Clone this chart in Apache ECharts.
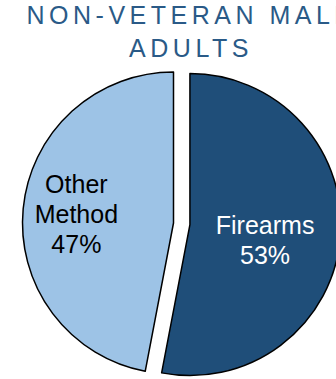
<!DOCTYPE html>
<html>
<head>
<meta charset="utf-8">
<script src="https://cdn.jsdelivr.net/npm/echarts@6/dist/echarts.min.js"></script>
<style>
  html, body { margin: 0; padding: 0; background: #ffffff; }
  #main { width: 336px; height: 379px; overflow: hidden; }
  /* spaced-out capitals for the heading */
  #main svg text[fill="#2a5a87"] { letter-spacing: 4.5px; }
</style>
</head>
<body>
<div id="main"></div>
<script>
// Suicide method share, non-veteran male adults
const titleText = 'NON-VETERAN MALE\nADULTS';
const categories = ['Firearms', 'Other Method'];
const shares = [53, 47];
const sliceColors = ['#1f4e79', '#9dc3e6'];
const labelColors = ['#ffffff', '#000000'];

const chart = echarts.init(document.getElementById('main'), null, { renderer: 'svg' });

const pieData = categories.map((name, i) => ({
  name: name,
  value: shares[i],
  selected: i === 0,
  itemStyle: { color: sliceColors[i] },
  label: { color: labelColors[i] }
}));

// nudges for the inside labels, per slice
const labelShift = [
  { dx: -3, dy: 8 },
  { dx: -19, dy: -2 }
];

chart.setOption({
  animation: false,
  backgroundColor: '#ffffff',
  title: {
    text: titleText,
    left: 186,
    top: -7,
    textAlign: 'center',
    textStyle: {
      fontFamily: 'Liberation Sans, Arial, sans-serif',
      fontSize: 25,
      fontWeight: 'normal',
      color: '#2a5a87',
      lineHeight: 33
    }
  },
  series: [{
    type: 'pie',
    center: [173.5, 223],
    radius: [0, 151],
    startAngle: 90,
    clockwise: true,
    selectedMode: 'single',
    selectedOffset: 16.5,
    silent: true,
    itemStyle: { borderColor: '#000000', borderWidth: 1.5 },
    label: {
      show: true,
      position: 'inside',
      fontFamily: 'Liberation Sans, Arial, sans-serif',
      fontSize: 25,
      lineHeight: 30,
      formatter: p => p.name.replace(' ', '\n') + '\n' + p.value + '%'
    },
    labelLine: { show: false },
    labelLayout: p => labelShift[p.dataIndex],
    data: pieData
  }]
});
</script>
</body>
</html>
